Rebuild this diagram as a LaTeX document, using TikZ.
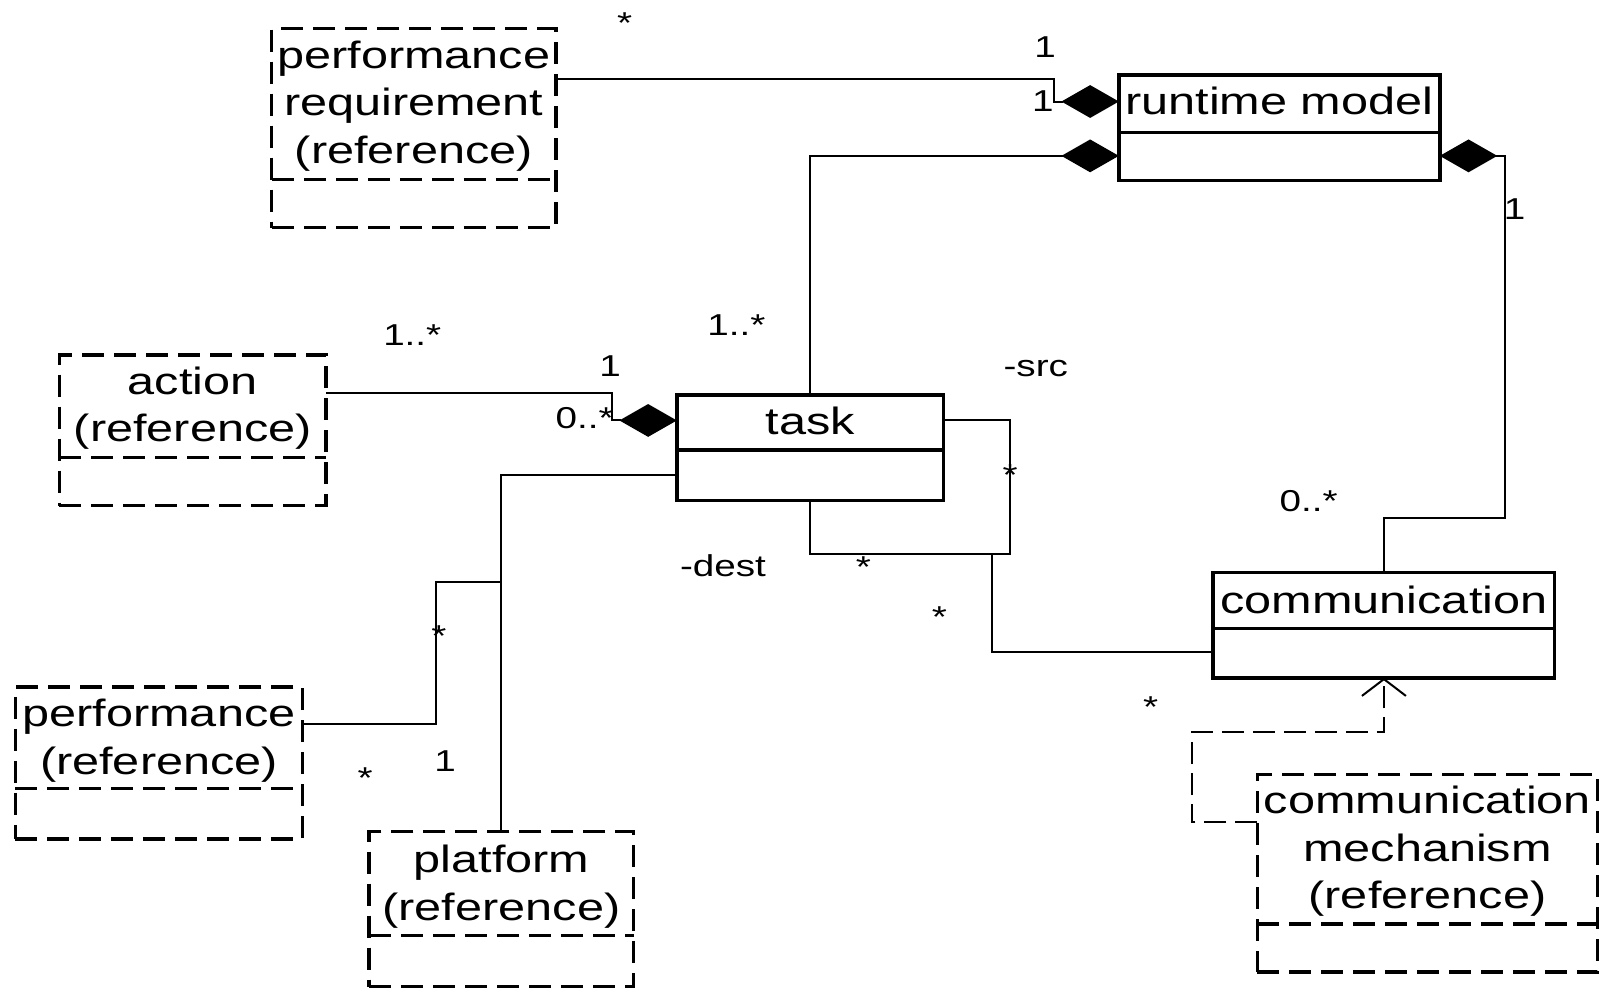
\documentclass[tikz,border=0pt]{standalone}
\usepackage{fontspec}
\setmainfont{Liberation Sans}[FakeStretch=1.28]
\usetikzlibrary{arrows.meta,fit}
\begin{document}
\begin{tikzpicture}[x=0.5128pt,y=-0.5128pt,
  clsbox/.style={draw,line width=1.7pt,inner sep=0pt,outer sep=0pt},
  refclsbox/.style={clsbox,dash pattern=on 11pt off 5pt},
  divsolid/.style={line width=1.7pt},
  divdash/.style={line width=1.7pt,dash pattern=on 11pt off 5pt},
  ctext/.style={font=\fontsize{19pt}{23.8pt}\selectfont,align=center,inner sep=0pt,anchor=base},
  mult/.style={font=\fontsize{15.1pt}{16pt}\selectfont,inner sep=0pt,anchor=base},
  assoc/.style={line width=1pt},
  comp/.style={assoc,-{Diamond[length=28.7pt,width=16.4pt]}},
  dep/.style={assoc,dash pattern=on 11pt off 4.5pt,-{Straight Barb[length=8.4pt,width=22pt]}}
]
\useasboundingbox (0,0) rectangle (1568,964);

% ---- classes ----
\node[refclsbox, fit={(265,28) (542,222)}] (preq) {};
\draw[divdash] (preq.west |- 0,175) -- (preq.east |- 0,175);
\node[ctext] (preq-t) at (403.5,159.5) {performance\\requirement\\(reference)};

\node[clsbox, fit={(1091,73) (1404,176)}] (rt) {};
\draw[divsolid] (rt.west |- 0,129) -- (rt.east |- 0,129);
\node[ctext] (rt-t) at (1247.5,112) {runtime model};

\node[refclsbox, fit={(58,346) (318,493)}] (act) {};
\draw[divdash] (act.west |- 0,446) -- (act.east |- 0,446);
\node[ctext] (act-t) at (188,431) {action\\(reference)};

\node[clsbox, fit={(660,385) (920,488)}] (task) {};
\draw[divsolid] (task.west |- 0,439) -- (task.east |- 0,439);
\node[ctext] (task-t) at (790,424) {task};

\node[clsbox, fit={(1183,558) (1516,661)}] (comm) {};
\draw[divsolid] (comm.west |- 0,613) -- (comm.east |- 0,613);
\node[ctext] (comm-t) at (1349.5,598) {communication};

\node[refclsbox, fit={(15,670) (295,818)}] (perf) {};
\draw[divdash] (perf.west |- 0,769) -- (perf.east |- 0,769);
\node[ctext] (perf-t) at (155,755) {performance\\(reference)};

\node[refclsbox, fit={(360,811) (618,962)}] (plat) {};
\draw[divdash] (plat.west |- 0,912) -- (plat.east |- 0,912);
\node[ctext] (plat-t) at (489,897.5) {platform\\(reference)};

\node[refclsbox, fit={(1226,755) (1558,948)}] (cmech) {};
\draw[divdash] (cmech.west |- 0,901) -- (cmech.east |- 0,901);
\node[ctext] (cmech-t) at (1392,886) {communication\\mechanism\\(reference)};

% ---- connectors ----
\draw[comp] (preq.east |- 0,77) -| (1028,99) -- (rt.west |- 0,99);
\draw[comp] (task.north) |- (rt.west |- 0,152);
\draw[comp] (comm.north) |- (1468,505) |- (rt.east |- 0,152);
\draw[comp] (act.east |- 0,383) -| (597,410) -- (task.west |- 0,410);
\draw[assoc] (task.west |- 0,463) -| (plat.north);
\coordinate (branch) at (489,568);
\draw[assoc] (branch) -| (425,706) -- (perf.east |- 0,706);
\draw[assoc] (task.east |- 0,410) -| (985,540) -| (task.south);
\coordinate (loopjoin) at (967,540);
\draw[assoc] (loopjoin) |- (comm.west |- 0,636);
\draw[dep] (cmech.west |- 0,802) -- (1162,802) -- (1162,714) -| (comm.south);

% ---- multiplicities / roles ----
\node[mult] (m1) at (609,33) {*};
\node[mult] (m2) at (1019,55.6) {1};
\node[mult] (m3) at (1017,108.6) {1};
\node[mult] (m4) at (718,327) {1..*};
\node[mult] (m5) at (1477,213.6) {1};
\node[mult] (m6) at (1276,498.6) {0..*};
\node[mult] (m7) at (402,336.6) {1..*};
\node[mult] (m8) at (595,367.6) {1};
\node[mult] (m9) at (570,418) {0..*};
\node[mult] (m10) at (1010,367) {-src};
\node[mult] (m11) at (985,473.5) {*};
\node[mult] (m12) at (705,562) {-dest};
\node[mult] (m13) at (842,563) {*};
\node[mult] (m14) at (916,612) {*};
\node[mult] (m15) at (1122,700) {*};
\node[mult] (m16) at (428,630) {*};
\node[mult] (m17) at (356,769) {*};
\node[mult] (m18) at (434,752.6) {1};
\end{tikzpicture}
\end{document}
